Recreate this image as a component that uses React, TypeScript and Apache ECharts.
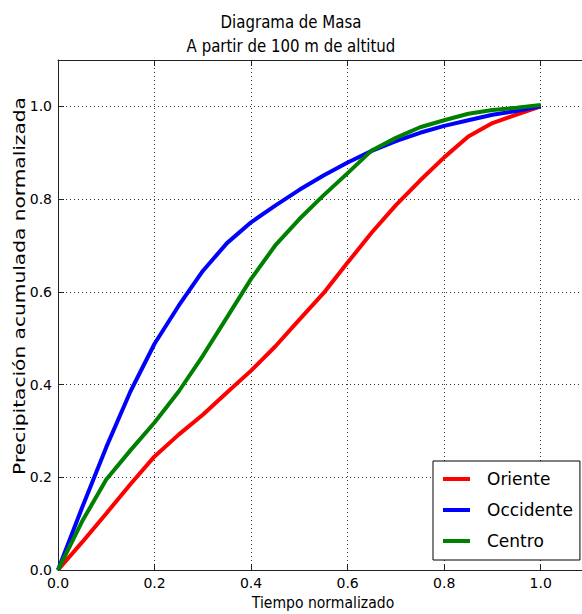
import React, { useEffect, useRef } from "react";
import * as echarts from "echarts";

const time = [0, 0.05, 0.1, 0.15, 0.2, 0.25, 0.3, 0.35, 0.4, 0.45, 0.5, 0.55, 0.6, 0.65, 0.7, 0.75, 0.8, 0.85, 0.9, 0.95, 1.0];
const oriente = [0, 0.06, 0.122, 0.185, 0.245, 0.292, 0.335, 0.383, 0.43, 0.482, 0.54, 0.597, 0.663, 0.728, 0.787, 0.84, 0.89, 0.935, 0.964, 0.982, 1.0];
const occidente = [0, 0.135, 0.265, 0.385, 0.488, 0.57, 0.645, 0.705, 0.75, 0.786, 0.82, 0.851, 0.879, 0.904, 0.925, 0.943, 0.958, 0.97, 0.982, 0.99, 1.0];
const centro = [0, 0.105, 0.195, 0.258, 0.318, 0.385, 0.462, 0.545, 0.628, 0.7, 0.757, 0.808, 0.856, 0.905, 0.932, 0.955, 0.97, 0.984, 0.992, 0.997, 1.003];
const seriesNames = ["Oriente", "Occidente", "Centro"];
const seriesColors = ["#ff0000", "#0000ff", "#008000"];
const titleLines = ["Diagrama de Masa", "A partir de 100 m de altitud"];
const xLabel = "Tiempo normalizado";
const yLabel = "Precipitación acumulada normalizada";

const FONT = "DejaVu Sans";

export default function App() {
  const ref = useRef<HTMLDivElement>(null);
  useEffect(() => {
    if (!ref.current) return;
    const chart = echarts.init(ref.current, null, { renderer: "svg" });
    const values = [oriente, occidente, centro];
    const fmt = (v: number) => (v > 1.0001 ? "" : v.toFixed(1));
    const axisLine = { show: true, lineStyle: { color: "#222", width: 1 } };
    const axisTick = { show: true, inside: true, length: 6, lineStyle: { color: "#222", width: 1 } };
    const splitLine = { show: true, lineStyle: { color: "#333", width: 1, type: [1, 3] as any } };
    chart.setOption({
      animation: false,
      backgroundColor: "#fff",
      grid: { left: 58, top: 60, width: 531, height: 510, containLabel: false, outerBoundsMode: "none" },
      legend: {
        data: seriesNames,
        orient: "vertical",
        left: 433,
        top: 461,
        padding: [8, 7, 9, 10],
        itemGap: 11,
        itemWidth: 27,
        itemHeight: 4,
        icon: "rect",
        borderColor: "#000",
        borderWidth: 1,
        borderRadius: 0,
        backgroundColor: "#fff",
        textStyle: { fontFamily: FONT, fontSize: 17, color: "#000", lineHeight: 20, padding: [0, 0, 0, 12] },
      },
      xAxis: [
        {
          type: "value",
          min: 0,
          max: 1.1,
          interval: 0.2,
          axisLine,
          axisTick,
          splitLine,
          axisLabel: { formatter: fmt, fontFamily: FONT, fontSize: 14, color: "#000", margin: 6, showMaxLabel: false },
        },
        {
          type: "value",
          position: "top",
          min: 0,
          max: 1.1,
          interval: 0.2,
          axisLine,
          axisTick,
          splitLine: { show: false },
          axisLabel: { show: false },
        },
      ],
      yAxis: {
        type: "value",
        min: 0,
        max: 1.1,
        interval: 0.2,
        axisLine,
        axisTick,
        splitLine,
        axisLabel: { formatter: fmt, fontFamily: FONT, fontSize: 14, color: "#000", margin: 6, showMaxLabel: false },
      },
      graphic: [
        {
          type: "text",
          x: 19,
          y: 286,
          rotation: Math.PI / 2,
          scaleX: 1.26,
          style: {
            text: yLabel,
            fontFamily: FONT,
            fontSize: 16,
            fill: "#000",
            textAlign: "center",
            textVerticalAlign: "middle",
          },
        },
        {
          type: "text",
          x: 323,
          y: 603,
          scaleY: 1.15,
          style: {
            text: xLabel,
            fontFamily: FONT,
            fontSize: 14,
            fill: "#000",
            textAlign: "center",
            textVerticalAlign: "middle",
          },
        },
        ...titleLines.map((line, i) => ({
          type: "text",
          x: 291,
          y: 22 + i * 24,
          scaleY: 1.2,
          style: {
            text: line,
            fontFamily: FONT,
            fontSize: 15,
            fill: "#000",
            textAlign: "center",
            textVerticalAlign: "middle",
          },
        })),
      ],
      series: seriesNames.map((name, k) => ({
        name,
        type: "line",
        xAxisIndex: 0,
        showSymbol: false,
        symbol: "none",
        color: seriesColors[k],
        lineStyle: { width: 4, color: seriesColors[k] },
        data: time.map((t, i) => [t, values[k][i]]),
      })),
    });
    return () => chart.dispose();
  }, []);
  return <div ref={ref} style={{ position: "absolute", left: 0, top: 0, width: 582, height: 614 }} />;
}
